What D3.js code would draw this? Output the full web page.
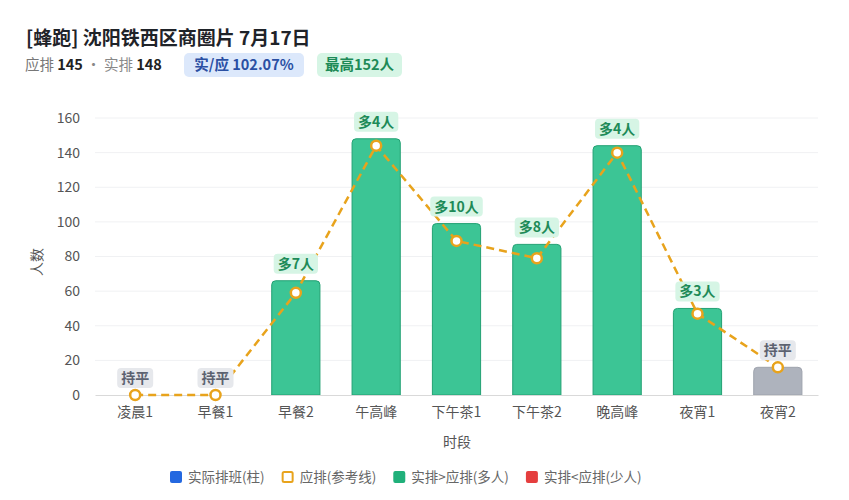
<!DOCTYPE html>
<html><head><meta charset="utf-8">
<script src="https://cdn.jsdelivr.net/npm/d3@7/dist/d3.min.js"></script>
<style>
body{margin:0;background:#fff;font-family:"Noto Sans CJK SC","Noto Sans",sans-serif;}
svg text{font-family:"Noto Sans CJK SC","Noto Sans",sans-serif;}
</style></head>
<body>
<svg id="c" width="849" height="500"></svg>
<script>
const categories = ["凌晨1","早餐1","早餐2","午高峰","下午茶1","下午茶2","晚高峰","夜宵1","夜宵2"];
const actual = [0,0,66,148,99,87,144,50,16];
const planned = [0,0,59,144,89,79,140,47,16];
const yTicks = [0,20,40,60,80,100,120,140,160];
const title = "[蜂跑] 沈阳铁西区商圈片 7月17日";
const totalPlanned = 145, totalActual = 148, ratioText = "实/应 102.07%", peakText = "最高152人";
const legendItems = ["实际排班(柱)","应排(参考线)","实排>应排(多人)","实排<应排(少人)"];

const svg = d3.select("#c");
const m = {l:95, r:818, t:118, b:395};
const x = d3.scaleBand().domain(categories).range([m.l, m.r]).paddingInner(0.4).paddingOuter(0.2);
const y = d3.scaleLinear().domain([0,160]).range([m.b, m.t]);

// title
svg.append("text").attr("x",26).attr("y",45).attr("font-size",19).attr("font-weight",700).attr("fill","#1f2329").text(title);
// subtitle
const sub = svg.append("text").attr("x",25).attr("y",70).attr("font-size",14.5);
sub.append("tspan").attr("fill","#777").text("应排 ");
sub.append("tspan").attr("fill","#222").attr("font-weight",700).text(totalPlanned);
sub.append("tspan").attr("fill","#888").text(" · 实排 ");
sub.append("tspan").attr("fill","#222").attr("font-weight",700).text(totalActual);
function badge(x0,w,txt,bg,fg){
  svg.append("rect").attr("x",x0).attr("y",53).attr("width",w).attr("height",24).attr("rx",5).attr("fill",bg);
  svg.append("text").attr("x",x0+w/2).attr("y",70).attr("text-anchor","middle").attr("font-size",14.5).attr("font-weight",700).attr("fill",fg).text(txt);
}
badge(184,120,ratioText,"#dce8fb","#2a4fa3");
badge(317,85,peakText,"#d6f5e5","#1d8a57");

// grid
svg.append("g").selectAll("line").data(yTicks.slice(1)).join("line")
  .attr("x1",m.l).attr("x2",m.r).attr("y1",d=>y(d)).attr("y2",d=>y(d))
  .attr("stroke","#f0f1f3").attr("stroke-width",1);
// y axis
const ya = svg.append("g").attr("transform",`translate(${m.l},0)`).call(d3.axisLeft(y).tickValues(yTicks).tickSize(0).tickPadding(15));
ya.select(".domain").remove();
ya.selectAll("text").attr("font-size",14).attr("fill","#555");
svg.append("text").attr("transform","translate(42,262) rotate(-90)").attr("text-anchor","middle").attr("font-size",14).attr("fill","#555").text("人数");

// bars
svg.append("g").selectAll("path").data(categories).join("path")
  .attr("d",(d,i)=>{
    const x0=x(d), w=x.bandwidth(), y0=y(actual[i]), h=m.b-y0, r=Math.min(4,h);
    if(h<=0) return "";
    return `M${x0},${m.b}V${y0+r}Q${x0},${y0} ${x0+r},${y0}H${x0+w-r}Q${x0+w},${y0} ${x0+w},${y0+r}V${m.b}Z`;
  })
  .attr("fill",(d,i)=>actual[i]>planned[i]?"#3cc595":"#aeb3bd")
  .attr("stroke",(d,i)=>actual[i]>planned[i]?"#23a173":"#9ea3ad").attr("stroke-width",1);

// x axis
const xa = svg.append("g").attr("transform",`translate(0,${m.b})`).call(d3.axisBottom(x).tickSize(0).tickPadding(12));
xa.select(".domain").attr("stroke","#d9d9d9");
xa.selectAll("text").attr("font-size",14).attr("fill","#555");
svg.append("text").attr("x",457).attr("y",447).attr("text-anchor","middle").attr("font-size",14).attr("fill","#555").text("时段");

// line
const cx = d=>x(d)+x.bandwidth()/2;
svg.append("path").datum(categories)
  .attr("d",d3.line().x(d=>cx(d)).y((d,i)=>y(planned[i])))
  .attr("fill","none").attr("stroke","#e8a31c").attr("stroke-width",2.5).attr("stroke-dasharray","8,5");
svg.append("g").selectAll("circle").data(categories).join("circle")
  .attr("cx",d=>cx(d)).attr("cy",(d,i)=>y(planned[i])).attr("r",5)
  .attr("fill","#fff").attr("stroke","#e8a31c").attr("stroke-width",2.5);

// labels
const lg = svg.append("g");
categories.forEach((d,i)=>{
  const diff = actual[i]-planned[i];
  const txt = diff>0?`多${diff}人`:diff<0?`少${-diff}人`:"持平";
  const top = Math.min(y(actual[i]), y(planned[i]));
  const cyy = top-17;
  const t = lg.append("text").attr("x",cx(d)).attr("y",cyy+5).attr("text-anchor","middle")
    .attr("font-size",14).attr("font-weight",700).attr("fill",diff>0?"#1d8a57":"#5c6270").text(txt);
  const w = t.node().getComputedTextLength()+8;
  lg.insert("rect","text").attr("x",cx(d)-w/2).attr("y",cyy-10).attr("width",w).attr("height",20).attr("rx",4)
    .attr("fill",diff>0?"#d6f5e5":"#e6e8ec");
});
lg.selectAll("text").raise();

// legend
const colors = ["#2468e0",null,"#20b07a","#e53e3e"];
let lx = 170;
const leg = svg.append("g");
legendItems.forEach((s,i)=>{
  if(colors[i]) leg.append("rect").attr("x",lx).attr("y",471).attr("width",12).attr("height",12).attr("rx",2).attr("fill",colors[i]);
  else leg.append("rect").attr("x",lx+1).attr("y",472).attr("width",10).attr("height",10).attr("rx",1.5).attr("fill","#fff").attr("stroke","#e8a31c").attr("stroke-width",2);
  const t = leg.append("text").attr("x",lx+18).attr("y",482).attr("font-size",13.5).attr("fill","#666").text(s);
  lx += 18 + t.node().getComputedTextLength() + 17;
});
</script>
</body></html>
